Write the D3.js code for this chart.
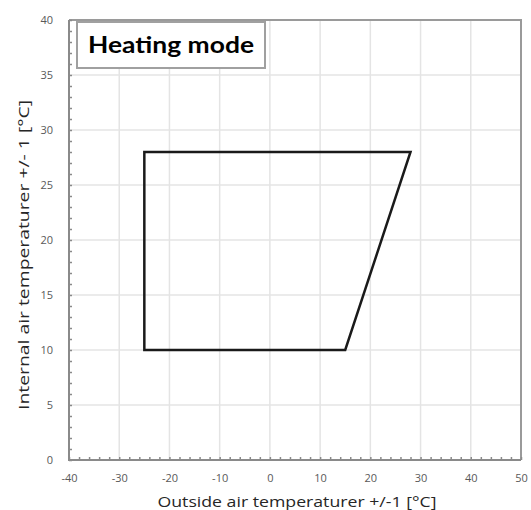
<!DOCTYPE html>
<html>
<head>
<meta charset="utf-8">
<script src="https://cdn.jsdelivr.net/npm/d3@7"></script>
<style>
  body { margin: 0; background: #fff; }
  svg { display: block; }
</style>
</head>
<body>
<div id="chart"></div>
<script>
// operating envelope (outside temp, internal temp)
const envelopeX = [-25, -25, 28, 15];
const envelopeY = [10, 28, 28, 10];
const xTicks = [-40, -30, -20, -10, 0, 10, 20, 30, 40, 50];
const yTicks = [0, 5, 10, 15, 20, 25, 30, 35, 40];
const chartTitle = "Heating mode";
const xTitle = "Outside air temperaturer +/-1 [°C]";
const yTitle = "Internal air temperaturer +/- 1 [°C]";

const W = 531, H = 510;
const svg = d3.select("#chart").append("svg").attr("width", W).attr("height", H);

const x = d3.scaleLinear().domain([-40, 50]).range([69, 521]);
const y = d3.scaleLinear().domain([0, 40]).range([460, 20]);

// gridlines
svg.append("g").selectAll("line").data(xTicks.slice(1)).join("line")
  .attr("x1", d => x(d)).attr("x2", d => x(d))
  .attr("y1", y(0)).attr("y2", y(40))
  .attr("stroke", "#e4e4e4").attr("stroke-width", 1.5);
svg.append("g").selectAll("line").data(yTicks.slice(1)).join("line")
  .attr("x1", x(-40)).attr("x2", x(50))
  .attr("y1", d => y(d)).attr("y2", d => y(d))
  .attr("stroke", "#e4e4e4").attr("stroke-width", 1.5);

// frame top / right
svg.append("path")
  .attr("d", `M${x(-40)},${y(40)}H${x(50)}V${y(0)}`)
  .attr("fill", "none").attr("stroke", "#9a9a9a").attr("stroke-width", 2);

// minor ticks (inside)
const minorX = d3.range(-40, 51, 2);
const minorY = d3.range(0, 41, 1);
svg.append("g").attr("transform", `translate(0,${y(0)})`)
  .call(d3.axisBottom(x).tickValues(minorX).tickSize(-3).tickFormat(""))
  .call(g => g.select(".domain").remove())
  .call(g => g.selectAll("line").attr("stroke", "#8a8a8a").attr("stroke-width", 1.5));
svg.append("g").attr("transform", `translate(${x(-40)},0)`)
  .call(d3.axisLeft(y).tickValues(minorY).tickSize(-3).tickFormat(""))
  .call(g => g.select(".domain").remove())
  .call(g => g.selectAll("line").attr("stroke", "#8a8a8a").attr("stroke-width", 1.5));

// axis lines
svg.append("path")
  .attr("d", `M${x(-40)},${y(40)}V${y(0)}H${x(50)}`)
  .attr("fill", "none").attr("stroke", "#8a8a8a").attr("stroke-width", 2);

// tick labels (plain hyphen minus, like the original)
svg.append("g").attr("transform", `translate(0,${y(0)})`)
  .call(d3.axisBottom(x).tickValues(xTicks).tickSize(0).tickPadding(14).tickFormat(d => String(d)))
  .call(g => g.select(".domain").remove())
  .call(g => g.selectAll("text").attr("fill", "#595959")
    .style("font", "11px 'Open Sans', sans-serif"));
svg.append("g").attr("transform", `translate(${x(-40)},0)`)
  .call(d3.axisLeft(y).tickValues(yTicks).tickSize(0).tickPadding(16).tickFormat(d => String(d)))
  .call(g => g.select(".domain").remove())
  .call(g => g.selectAll("text").attr("fill", "#595959")
    .style("font", "11px 'Open Sans', sans-serif"));

// envelope
const pts = envelopeX.map((v, i) => [x(v), y(envelopeY[i])]);
svg.append("path")
  .attr("d", d3.line()(pts) + "Z")
  .attr("fill", "none").attr("stroke", "#1a1a1a").attr("stroke-width", 2.5)
  .attr("stroke-linejoin", "miter");

// title box
svg.append("rect")
  .attr("x", 77).attr("y", 22).attr("width", 188).attr("height", 46)
  .attr("fill", "#fff").attr("stroke", "#a0a0a0").attr("stroke-width", 2);
svg.append("text")
  .attr("x", 171).attr("y", 53).attr("text-anchor", "middle")
  .attr("textLength", 166).attr("lengthAdjust", "spacingAndGlyphs")
  .style("font", "bold 23px Lato, 'Open Sans', sans-serif").attr("fill", "#000")
  .text(chartTitle);

// axis titles
svg.append("text")
  .attr("x", 297).attr("y", 507).attr("text-anchor", "middle")
  .attr("textLength", 279).attr("lengthAdjust", "spacingAndGlyphs")
  .style("font", "15px 'Open Sans', sans-serif").attr("fill", "#262626")
  .text(xTitle);
svg.append("text")
  .attr("transform", "translate(29,255) rotate(-90)")
  .attr("text-anchor", "middle")
  .attr("textLength", 310).attr("lengthAdjust", "spacingAndGlyphs")
  .style("font", "15px 'Open Sans', sans-serif").attr("fill", "#262626")
  .text(yTitle);
</script>
</body>
</html>
